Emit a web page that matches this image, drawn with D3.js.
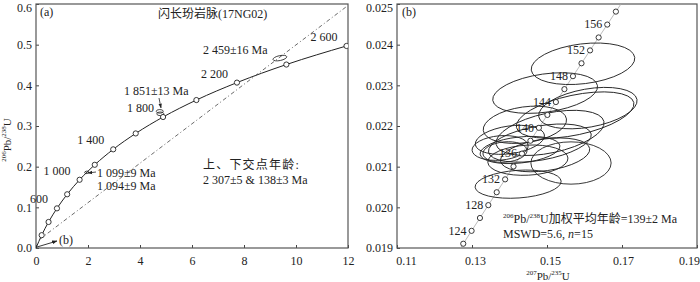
<!DOCTYPE html>
<html>
<head>
<meta charset="utf-8">
<script src="https://cdn.jsdelivr.net/npm/d3@7"></script>
<style>
body{margin:0;background:#fff}
svg{display:block}
text{font-family:"Liberation Serif","Times New Roman","Noto Sans CJK SC",serif;fill:#222}
</style>
</head>
<body>
<svg id="chart" width="700" height="282"></svg>
<script>
// panel (a): concordia marks every 200 Ma
ageA = [0,200,400,600,800,1000,1200,1400,1600,1800,2000,2200,2400,2600];
concXA = [0,0.218,0.483,0.806,1.199,1.677,2.260,2.970,3.835,4.887,6.168,7.729,9.629,11.942];
concYA = [0,0.0315,0.0640,0.0975,0.1321,0.1678,0.2046,0.2426,0.2817,0.3221,0.3638,0.4067,0.4511,0.4968];
labelAgesA = [600,1000,1400,1800,2200,2600];
discX = [0.146,11.95];
discY = [0.0216,0.594];
// small analyses shown in (a)
ellAX = [9.38,4.76,4.78,1.95];
ellAY = [0.467,0.336,0.330,0.186];
ellARx = [0.27,0.135,0.135,0.08];
ellARy = [0.006,0.0045,0.0045,0.003];
ellAAng = [-12,0,0,-10];
xTicksA = [0,2,4,6,8,10,12];
yTicksA = [0,0.1,0.2,0.3,0.4,0.5,0.6];

// panel (b): concordia marks every 2 Ma
ageB = [120,122,124,126,128,130,132,134,136,138,140,142,144,146,148,150,152,154,156,158,160];
concXB = [0.12545,0.12767,0.12989,0.13212,0.13435,0.13659,0.13883,0.14107,0.14332,0.14558,0.14784,0.15010,0.15237,0.15464,0.15692,0.15920,0.16148,0.16377,0.16607,0.16837,0.17067];
concYB = [0.018789,0.019105,0.019422,0.019738,0.020054,0.020371,0.020688,0.021005,0.021321,0.021638,0.021955,0.022272,0.022589,0.022906,0.023225,0.023542,0.023859,0.024177,0.024494,0.024813,0.025131];
labelAgesB = [124,128,132,136,140,144,148,152,156];
// 15 analyses (2 sigma ellipses)
ellBX = [0.1596,0.1495,0.1609,0.1575,0.1441,0.1508,0.1401,0.1481,0.1375,0.1428,0.1495,0.1449,0.1564,0.1423,0.1388];
ellBY = [0.02353,0.02281,0.02244,0.02227,0.02203,0.02183,0.02166,0.02158,0.02146,0.02141,0.02129,0.02116,0.02109,0.02057,0.02136];
ellBRx = [0.0139,0.0141,0.0133,0.0160,0.0112,0.0147,0.0093,0.0139,0.0075,0.0107,0.0120,0.0107,0.0107,0.0115,0.0059];
ellBRy = [0.00049,0.00047,0.00047,0.00049,0.00044,0.00049,0.00034,0.00042,0.00030,0.00032,0.00039,0.00037,0.00052,0.00034,0.00025];
ellBAng = [-7,-8,-10,-12,-8,-12,-8,-10,-5,-6,-8,-3,0,-4,-5];
xTicksB = [0.11,0.13,0.15,0.17,0.19];
yTicksB = [0.019,0.020,0.021,0.022,0.023,0.024,0.025];

svg = d3.select("#chart");

defs = svg.append("defs");
defs.append("marker").attr("id","arr").attr("viewBox","0 0 10 10")
    .attr("refX",9).attr("refY",5).attr("markerWidth",6).attr("markerHeight",6)
    .attr("orient","auto")
  .append("path").attr("d","M0,1.5L10,5L0,8.5Z").attr("fill","#222");

xA = d3.scaleLinear().domain([0,12]).range([36,348]);
yA = d3.scaleLinear().domain([0,0.6]).range([248,4]);
xB = d3.scaleLinear().domain([0.11,0.19]).range([397,697]);
yB = d3.scaleLinear().domain([0.019,0.025]).range([248,4]);

defs.append("clipPath").attr("id","clipA").append("rect")
    .attr("x",36).attr("y",4).attr("width",312).attr("height",244);
defs.append("clipPath").attr("id","clipB").append("rect")
    .attr("x",397).attr("y",4).attr("width",300).attr("height",244);

function sup(t, parts){
  // parts: [text, isSup, dropBack]
  parts.forEach(p => {
    t.append("tspan").attr("font-size", p[1] ? 7 : null)
      .attr("dy", p[1] ? -5 : (p[2] ? 5 : 0)).text(p[0]);
  });
  return t;
}

function drawAxes(x, y, xt, yt, yfmt, xfmt){
  g = svg.append("g");
  g.append("g").attr("class","xax").attr("transform",`translate(0,${y.range()[0]})`)
    .call(d3.axisBottom(x).tickValues(xt).tickFormat(xfmt).tickSizeInner(-3).tickSizeOuter(0).tickPadding(8))
    .call(a => a.select(".domain").remove());
  g.append("g").attr("class","yax").attr("transform",`translate(${x.range()[0]},0)`)
    .call(d3.axisLeft(y).tickValues(yt).tickFormat(yfmt).tickSizeInner(-3).tickSizeOuter(0).tickPadding(4))
    .call(a => a.select(".domain").remove());
  g.selectAll(".tick text").attr("font-size",12).attr("font-family",null).attr("fill","#222");
  g.selectAll(".tick line").attr("stroke","#444");
  // keep the top label inside the picture
  g.select(".yax").selectAll(".tick text").filter(d => d === yt[yt.length-1]).attr("dy","0.6em");
  svg.append("rect").attr("x",x.range()[0]).attr("y",y.range()[1])
    .attr("width",x.range()[1]-x.range()[0]).attr("height",y.range()[0]-y.range()[1])
    .attr("fill","none").attr("stroke","#555").attr("stroke-width",1.2);
  return g;
}

// ---------- panel (a)
drawAxes(xA, yA, xTicksA, yTicksA, d3.format(".1f"), d3.format("d"));
pa = svg.append("g").attr("clip-path","url(#clipA)");
ptsA = ageA.map((a,i)=>[concXA[i],concYA[i]]);
pa.append("path").datum(ptsA)
  .attr("d", d3.line().x(d=>xA(d[0])).y(d=>yA(d[1])).curve(d3.curveMonotoneX))
  .attr("fill","none").attr("stroke","#222").attr("stroke-width",1);
pa.append("path").datum(discX.map((v,i)=>[v,discY[i]]))
  .attr("d", d3.line().x(d=>xA(d[0])).y(d=>yA(d[1])))
  .attr("fill","none").attr("stroke","#444").attr("stroke-width",0.8)
  .attr("stroke-dasharray","4,2.5,1,2.5");
ellAX.forEach((cx,i)=>{
  pa.append("ellipse")
    .attr("rx", xA(cx+ellARx[i])-xA(cx)).attr("ry", yA(ellAY[i])-yA(ellAY[i]+ellARy[i]))
    .attr("transform",`translate(${xA(cx)},${yA(ellAY[i])}) rotate(${ellAAng[i]})`)
    .attr("fill","none").attr("stroke","#222").attr("stroke-width",0.8);
});
pa.selectAll("circle.m").data(ptsA.slice(1)).join("circle")
  .attr("cx",d=>xA(d[0])).attr("cy",d=>yA(d[1])).attr("r",2.6)
  .attr("fill","#fff").attr("stroke","#222").attr("stroke-width",0.9);
labelAgesA.forEach(a=>{
  i = ageA.indexOf(a);
  svg.append("text").attr("x",xA(concXA[i])-9).attr("y",yA(concYA[i])-5)
    .attr("text-anchor","end").attr("font-size",12)
    .text(d3.format(",")(a).replace(","," "));
});
svg.append("text").attr("x",40).attr("y",16).attr("font-size",12).text("(a)");
svg.append("text").attr("x",158).attr("y",18).attr("font-size",12).text("闪长玢岩脉(17NG02)");
svg.append("text").attr("x",203).attr("y",54).attr("font-size",12).text("2 459±16 Ma");
svg.append("text").attr("x",124).attr("y",95).attr("font-size",12).text("1 851±13 Ma");
svg.append("text").attr("x",97).attr("y",177).attr("font-size",12).text("1 099±9 Ma");
svg.append("text").attr("x",97).attr("y",190).attr("font-size",12).text("1 094±9 Ma");
svg.append("text").attr("x",203).attr("y",169).attr("font-size",12).attr("letter-spacing",1.2).text("上、下交点年龄:");
svg.append("text").attr("x",203).attr("y",184).attr("font-size",12).text("2 307±5 & 138±3 Ma");
svg.append("text").attr("x",59).attr("y",244).attr("font-size",12).text("(b)");
// arrows
svg.append("line").attr("x1",159).attr("y1",98).attr("x2",161).attr("y2",108)
  .attr("stroke","#222").attr("stroke-width",0.8).attr("marker-end","url(#arr)");
svg.append("line").attr("x1",96).attr("y1",172).attr("x2",88).attr("y2",173)
  .attr("stroke","#222").attr("stroke-width",0.8).attr("marker-end","url(#arr)");
svg.append("line").attr("x1",xA(0)+1).attr("y1",yA(0)-1).attr("x2",57).attr("y2",241)
  .attr("stroke","#222").attr("stroke-width",0.9).attr("marker-end","url(#arr)");
ty = svg.append("text").attr("transform","translate(11,140) rotate(-90)")
  .attr("text-anchor","middle").attr("font-size",11);
sup(ty, [["206",1],["Pb/",0,1],["238",1],["U",0,1]]);

// ---------- panel (b)
gb = drawAxes(xB, yB, xTicksB, yTicksB, d3.format(".3f"), d3.format(".2f"));
xShift = [9,3,3,1,-8];
gb.select(".xax").selectAll(".tick text").attr("dx",(d,i)=>xShift[i]);
pb = svg.append("g").attr("clip-path","url(#clipB)");
ptsB = ageB.map((a,i)=>[concXB[i],concYB[i]]);
pb.append("path").datum(ptsB)
  .attr("d", d3.line().x(d=>xB(d[0])).y(d=>yB(d[1])).curve(d3.curveMonotoneX))
  .attr("fill","none").attr("stroke","#aaa").attr("stroke-width",0.8);
ellBX.forEach((cx,i)=>{
  pb.append("ellipse")
    .attr("rx", xB(cx+ellBRx[i])-xB(cx)).attr("ry", yB(ellBY[i])-yB(ellBY[i]+ellBRy[i]))
    .attr("transform",`translate(${xB(cx)},${yB(ellBY[i])}) rotate(${ellBAng[i]})`)
    .attr("fill","none").attr("stroke","#222").attr("stroke-width",0.9);
});
pb.selectAll("circle.m").data(ptsB.slice(1,-1)).join("circle")
  .attr("cx",d=>xB(d[0])).attr("cy",d=>yB(d[1])).attr("r",2.6)
  .attr("fill","#fff").attr("stroke","#222").attr("stroke-width",0.9);
labelAgesB.forEach(a=>{
  i = ageB.indexOf(a);
  svg.append("text").attr("x",xB(concXB[i])-5).attr("y",yB(concYB[i])+1)
    .attr("dominant-baseline","middle").attr("text-anchor","end").attr("font-size",12)
    .text(a);
});
svg.append("text").attr("x",402).attr("y",16).attr("font-size",12).text("(b)");
t1 = svg.append("text").attr("x",503).attr("y",223).attr("font-size",12);
sup(t1, [["206",1],["Pb/",0,1],["238",1],["U加权平均年龄=139±2 Ma",0,1]]);
t2 = svg.append("text").attr("x",503).attr("y",238).attr("font-size",12);
t2.append("tspan").text("MSWD=5.6, ");
t2.append("tspan").attr("font-style","italic").text("n");
t2.append("tspan").text("=15");
tx = svg.append("text").attr("x",548).attr("y",280).attr("text-anchor","middle").attr("font-size",11);
sup(tx, [["207",1],["Pb/",0,1],["235",1],["U",0,1]]);
</script>
</body>
</html>
